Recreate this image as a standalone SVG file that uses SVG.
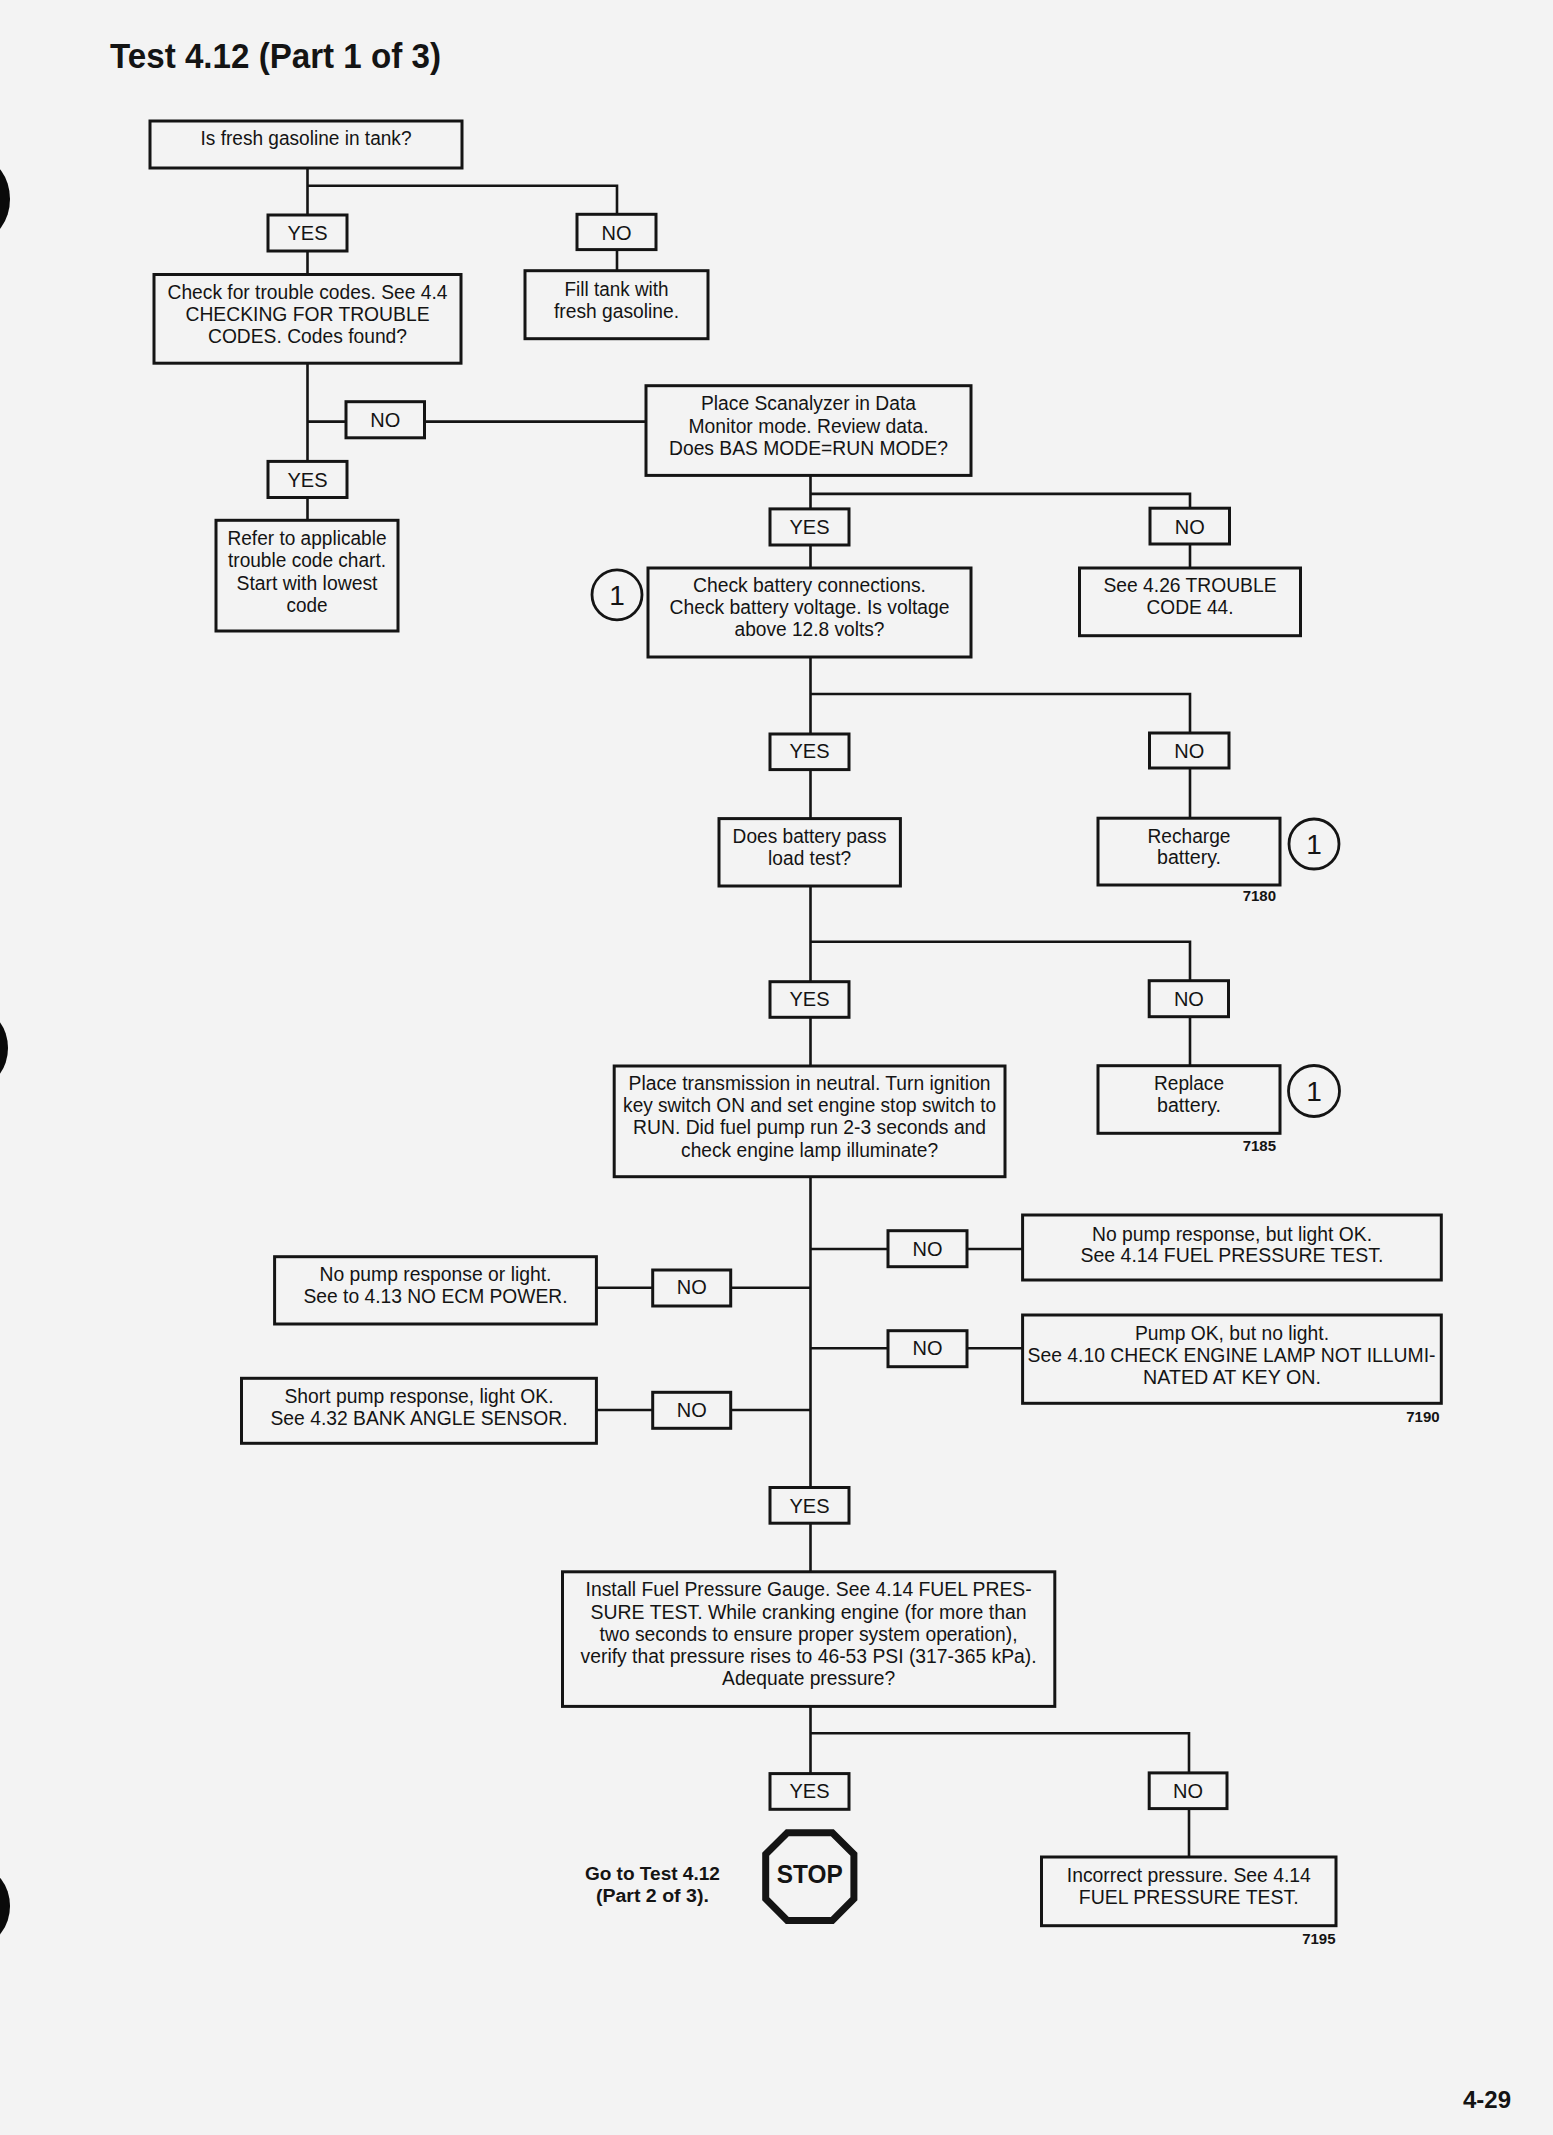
<svg xmlns="http://www.w3.org/2000/svg" width="1553" height="2135" viewBox="0 0 1553 2135">
<style>
.bg{fill:#f3f3f3}
.box{fill:none;stroke:#141414;stroke-width:3}
.lbl{fill:none;stroke:#141414;stroke-width:3}
.conn{fill:none;stroke:#141414;stroke-width:2.6}
.circ{fill:none;stroke:#141414;stroke-width:2.8}
.hole{fill:#0a0a0a}
text{font-family:"Liberation Sans",Arial,sans-serif;fill:#141414}
.t{font-size:20px;text-anchor:middle}
.n{font-size:28px;text-anchor:middle}
.fig{font-size:15px;font-weight:bold;text-anchor:end}
.b{font-weight:bold}
</style>
<rect class="bg" x="0" y="0" width="1553" height="2135"/>
<g id="binder-holes">
<ellipse class="hole" cx="-20" cy="199" rx="30" ry="40"/>
<ellipse class="hole" cx="-22" cy="1048" rx="30" ry="38"/>
<ellipse class="hole" cx="-20" cy="1906" rx="30" ry="38"/>
</g>
<text id="title" class="b" x="110" y="68.4" font-size="35" textLength="331" lengthAdjust="spacingAndGlyphs">Test 4.12 (Part 1 of 3)</text>

<g id="connectors">
<path class="conn" d="M307.5,168 V215 M307.5,185.7 H617 V214.3"/>
<path class="conn" d="M307.5,250.8 V274.5 M617,249.6 V270.7"/>
<path class="conn" d="M307.5,363.2 V461.4 M307.5,421.6 H346 M424.5,421.6 H646"/>
<path class="conn" d="M307.5,497.5 V520.3"/>
<path class="conn" d="M810.5,475.4 V508.9 M810.5,493.9 H1190 V508.2"/>
<path class="conn" d="M810.5,545 V568 M1190,544 V568"/>
<path class="conn" d="M810.5,657 V734 M810.5,694 H1190 V733"/>
<path class="conn" d="M810.5,769.6 V818.6 M1190,768 V818.2"/>
<path class="conn" d="M810.5,886 V981.7 M810.5,941.7 H1190 V980.7"/>
<path class="conn" d="M810.5,1017.3 V1066 M1190,1016.7 V1065.7"/>
<path class="conn" d="M810.5,1176.7 V1487.5"/>
<path class="conn" d="M810.5,1249 H888 M967,1249 H1022.6"/>
<path class="conn" d="M810.5,1287.7 H730.7 M652.7,1287.7 H596.4"/>
<path class="conn" d="M810.5,1348.3 H888 M967,1348.3 H1022.6"/>
<path class="conn" d="M810.5,1410 H730.7 M652.7,1410 H596.4"/>
<path class="conn" d="M810.5,1523.2 V1571.8"/>
<path class="conn" d="M810.5,1706.4 V1773.6 M810.5,1733.2 H1189 V1772.9"/>
<path class="conn" d="M1189,1808.6 V1857"/>
</g>

<g id="n-fresh-gas">
<rect class="box" x="150" y="121" width="312" height="47"/>
<text class="t" x="306" y="145" textLength="211" lengthAdjust="spacingAndGlyphs">Is fresh gasoline in tank?</text>
</g>
<g id="l-yes1"><rect class="lbl" x="268" y="215" width="79" height="36"/><text class="t" x="307.5" y="239.6">YES</text></g>
<g id="l-no1"><rect class="lbl" x="577" y="214.3" width="79" height="35.3"/><text class="t" x="616.5" y="239.6">NO</text></g>
<g id="n-check-codes">
<rect class="box" x="154" y="274.5" width="307" height="88.7"/>
<text class="t" x="307.5" y="299.3" textLength="280" lengthAdjust="spacingAndGlyphs">Check for trouble codes. See 4.4</text>
<text class="t" x="307.5" y="321.3" textLength="244" lengthAdjust="spacingAndGlyphs">CHECKING FOR TROUBLE</text>
<text class="t" x="307.5" y="343.3" textLength="199" lengthAdjust="spacingAndGlyphs">CODES. Codes found?</text>
</g>
<g id="n-fill-tank">
<rect class="box" x="525" y="270.7" width="183" height="68"/>
<text class="t" x="616.5" y="295.6" textLength="104" lengthAdjust="spacingAndGlyphs">Fill tank with</text>
<text class="t" x="616.5" y="317.6" textLength="125" lengthAdjust="spacingAndGlyphs">fresh gasoline.</text>
</g>
<g id="l-no2"><rect class="lbl" x="346" y="401.7" width="78.5" height="36.1"/><text class="t" x="385.2" y="427">NO</text></g>
<g id="l-yes2"><rect class="lbl" x="268" y="461.4" width="79" height="36.1"/><text class="t" x="307.5" y="487">YES</text></g>
<g id="n-refer">
<rect class="box" x="216" y="520.3" width="182" height="110.7"/>
<text class="t" x="307" y="545.2" textLength="159" lengthAdjust="spacingAndGlyphs">Refer to applicable</text>
<text class="t" x="307" y="567.2" textLength="158" lengthAdjust="spacingAndGlyphs">trouble code chart.</text>
<text class="t" x="307" y="589.6" textLength="141" lengthAdjust="spacingAndGlyphs">Start with lowest</text>
<text class="t" x="307" y="612" textLength="41" lengthAdjust="spacingAndGlyphs">code</text>
</g>
<g id="n-scanalyzer">
<rect class="box" x="646" y="385.7" width="325" height="89.7"/>
<text class="t" x="808.5" y="410" textLength="215" lengthAdjust="spacingAndGlyphs">Place Scanalyzer in Data</text>
<text class="t" x="808.5" y="432.5" textLength="240" lengthAdjust="spacingAndGlyphs">Monitor mode. Review data.</text>
<text class="t" x="808.5" y="454.6" textLength="279" lengthAdjust="spacingAndGlyphs">Does BAS MODE=RUN MODE?</text>
</g>
<g id="l-yes3"><rect class="lbl" x="770" y="508.9" width="79" height="36.1"/><text class="t" x="809.5" y="534">YES</text></g>
<g id="l-no3"><rect class="lbl" x="1150" y="508.2" width="79.5" height="35.8"/><text class="t" x="1189.7" y="534">NO</text></g>
<g id="n-circle-a"><circle class="circ" cx="617" cy="594.8" r="25"/><text class="n" x="617" y="604.8">1</text></g>
<g id="n-check-battery">
<rect class="box" x="648" y="568" width="323" height="89"/>
<text class="t" x="809.5" y="592" textLength="233" lengthAdjust="spacingAndGlyphs">Check battery connections.</text>
<text class="t" x="809.5" y="613.6" textLength="280" lengthAdjust="spacingAndGlyphs">Check battery voltage. Is voltage</text>
<text class="t" x="809.5" y="635.7" textLength="150" lengthAdjust="spacingAndGlyphs">above 12.8 volts?</text>
</g>
<g id="n-code44">
<rect class="box" x="1079.5" y="568" width="221" height="67.7"/>
<text class="t" x="1190" y="592" textLength="173" lengthAdjust="spacingAndGlyphs">See 4.26 TROUBLE</text>
<text class="t" x="1190" y="613.6" textLength="87" lengthAdjust="spacingAndGlyphs">CODE 44.</text>
</g>
<g id="l-yes4"><rect class="lbl" x="770" y="734" width="79" height="35.6"/><text class="t" x="809.5" y="758">YES</text></g>
<g id="l-no4"><rect class="lbl" x="1149.5" y="733" width="79.5" height="35"/><text class="t" x="1189.2" y="758">NO</text></g>
<g id="n-load-test">
<rect class="box" x="719" y="818.6" width="181.4" height="67.4"/>
<text class="t" x="809.6" y="842.9" textLength="154" lengthAdjust="spacingAndGlyphs">Does battery pass</text>
<text class="t" x="809.6" y="864.6" textLength="83" lengthAdjust="spacingAndGlyphs">load test?</text>
</g>
<g id="n-recharge">
<rect class="box" x="1098" y="818.2" width="182" height="66.8"/>
<text class="t" x="1189" y="842.5" textLength="83" lengthAdjust="spacingAndGlyphs">Recharge</text>
<text class="t" x="1189" y="864" textLength="64" lengthAdjust="spacingAndGlyphs">battery.</text>
</g>
<g id="n-circle-b"><circle class="circ" cx="1314" cy="844" r="25"/><text class="n" x="1314" y="854">1</text></g>
<text id="fig-7180" class="fig" x="1276" y="901">7180</text>
<g id="l-yes5"><rect class="lbl" x="770" y="981.7" width="79" height="35.6"/><text class="t" x="809.5" y="1006">YES</text></g>
<g id="l-no5"><rect class="lbl" x="1149.2" y="980.7" width="79.3" height="36"/><text class="t" x="1188.9" y="1006">NO</text></g>
<g id="n-ignition">
<rect class="box" x="614.2" y="1066" width="390.8" height="110.7"/>
<text class="t" x="809.6" y="1090" textLength="362" lengthAdjust="spacingAndGlyphs">Place transmission in neutral. Turn ignition</text>
<text class="t" x="809.6" y="1112.3" textLength="373" lengthAdjust="spacingAndGlyphs">key switch ON and set engine stop switch to</text>
<text class="t" x="809.6" y="1134.3" textLength="353" lengthAdjust="spacingAndGlyphs">RUN. Did fuel pump run 2-3 seconds and</text>
<text class="t" x="809.6" y="1156.7" textLength="257" lengthAdjust="spacingAndGlyphs">check engine lamp illuminate?</text>
</g>
<g id="n-replace">
<rect class="box" x="1098" y="1065.7" width="182" height="67.6"/>
<text class="t" x="1189" y="1090" textLength="70" lengthAdjust="spacingAndGlyphs">Replace</text>
<text class="t" x="1189" y="1112.3" textLength="64" lengthAdjust="spacingAndGlyphs">battery.</text>
</g>
<g id="n-circle-c"><circle class="circ" cx="1314" cy="1091" r="25.5"/><text class="n" x="1314" y="1101">1</text></g>
<text id="fig-7185" class="fig" x="1276" y="1150.7">7185</text>

<g id="l-no-r1"><rect class="lbl" x="888" y="1230.7" width="79" height="36"/><text class="t" x="927.5" y="1256">NO</text></g>
<g id="n-fuel-pressure-a">
<rect class="box" x="1022.6" y="1215" width="418.7" height="65"/>
<text class="t" x="1232" y="1240.5" textLength="280" lengthAdjust="spacingAndGlyphs">No pump response, but light OK.</text>
<text class="t" x="1232" y="1261.7" textLength="303" lengthAdjust="spacingAndGlyphs">See 4.14 FUEL PRESSURE TEST.</text>
</g>
<g id="l-no-l1"><rect class="lbl" x="652.7" y="1270" width="78" height="36"/><text class="t" x="691.7" y="1294.3">NO</text></g>
<g id="n-no-ecm">
<rect class="box" x="274.6" y="1256.7" width="321.8" height="67.3"/>
<text class="t" x="435.5" y="1280.7" textLength="232" lengthAdjust="spacingAndGlyphs">No pump response or light.</text>
<text class="t" x="435.5" y="1302.7" textLength="264" lengthAdjust="spacingAndGlyphs">See to 4.13 NO ECM POWER.</text>
</g>
<g id="l-no-r2"><rect class="lbl" x="888" y="1330.7" width="79" height="36"/><text class="t" x="927.5" y="1355">NO</text></g>
<g id="n-check-lamp">
<rect class="box" x="1022.6" y="1315" width="418.7" height="88.3"/>
<text class="t" x="1232" y="1340" textLength="194" lengthAdjust="spacingAndGlyphs">Pump OK, but no light.</text>
<text class="t" x="1231.5" y="1362.3" textLength="408" lengthAdjust="spacingAndGlyphs">See 4.10 CHECK ENGINE LAMP NOT ILLUMI-</text>
<text class="t" x="1232" y="1384" textLength="178" lengthAdjust="spacingAndGlyphs">NATED AT KEY ON.</text>
</g>
<text id="fig-7190" class="fig" x="1439.6" y="1421.7">7190</text>
<g id="l-no-l2"><rect class="lbl" x="652.7" y="1392.3" width="78" height="36"/><text class="t" x="691.7" y="1416.7">NO</text></g>
<g id="n-bank-angle">
<rect class="box" x="241.5" y="1378.3" width="354.9" height="65"/>
<text class="t" x="419" y="1403.3" textLength="269" lengthAdjust="spacingAndGlyphs">Short pump response, light OK.</text>
<text class="t" x="419" y="1425" textLength="297" lengthAdjust="spacingAndGlyphs">See 4.32 BANK ANGLE SENSOR.</text>
</g>
<g id="l-yes6"><rect class="lbl" x="770" y="1487.5" width="79" height="35.7"/><text class="t" x="809.5" y="1512.5">YES</text></g>
<g id="n-install-gauge">
<rect class="box" x="562.5" y="1571.8" width="492.3" height="134.6"/>
<text class="t" x="808.6" y="1596.4" textLength="446" lengthAdjust="spacingAndGlyphs">Install Fuel Pressure Gauge. See 4.14 FUEL PRES-</text>
<text class="t" x="808.6" y="1618.6" textLength="436" lengthAdjust="spacingAndGlyphs">SURE TEST. While cranking engine (for more than</text>
<text class="t" x="808.6" y="1641" textLength="418" lengthAdjust="spacingAndGlyphs">two seconds to ensure proper system operation),</text>
<text class="t" x="808.6" y="1663.2" textLength="456" lengthAdjust="spacingAndGlyphs">verify that pressure rises to 46-53 PSI (317-365 kPa).</text>
<text class="t" x="808.6" y="1685" textLength="173" lengthAdjust="spacingAndGlyphs">Adequate pressure?</text>
</g>
<g id="l-yes7"><rect class="lbl" x="770" y="1773.6" width="79" height="35.7"/><text class="t" x="809.5" y="1798.2">YES</text></g>
<g id="l-no7"><rect class="lbl" x="1149.2" y="1772.9" width="77.8" height="35.7"/><text class="t" x="1188.1" y="1798.2">NO</text></g>
<g id="n-goto">
<text class="b" x="652.4" y="1879.6" font-size="18" text-anchor="middle" textLength="135" lengthAdjust="spacingAndGlyphs">Go to Test 4.12</text>
<text class="b" x="652.4" y="1901.8" font-size="18" text-anchor="middle" textLength="113" lengthAdjust="spacingAndGlyphs">(Part 2 of 3).</text>
</g>
<g id="n-stop">
<polygon fill="none" stroke="#141414" stroke-width="7" stroke-linejoin="miter" points="787.3,1832.7 832.3,1832.7 853.9,1854.3 853.9,1898.8 832.3,1920.4 787.3,1920.4 765.7,1898.8 765.7,1854.3"/>
<text class="b" x="809.8" y="1883.3" font-size="25" text-anchor="middle" textLength="66" lengthAdjust="spacingAndGlyphs">STOP</text>
</g>
<g id="n-incorrect">
<rect class="box" x="1041.5" y="1857" width="294.5" height="68.7"/>
<text class="t" x="1188.8" y="1882" textLength="244" lengthAdjust="spacingAndGlyphs">Incorrect pressure. See 4.14</text>
<text class="t" x="1188.8" y="1904.3" textLength="220" lengthAdjust="spacingAndGlyphs">FUEL PRESSURE TEST.</text>
</g>
<text id="fig-7195" class="fig" x="1335.5" y="1943.6">7195</text>
<text id="page-number" class="b" x="1511" y="2108" font-size="24" text-anchor="end">4-29</text>
</svg>
